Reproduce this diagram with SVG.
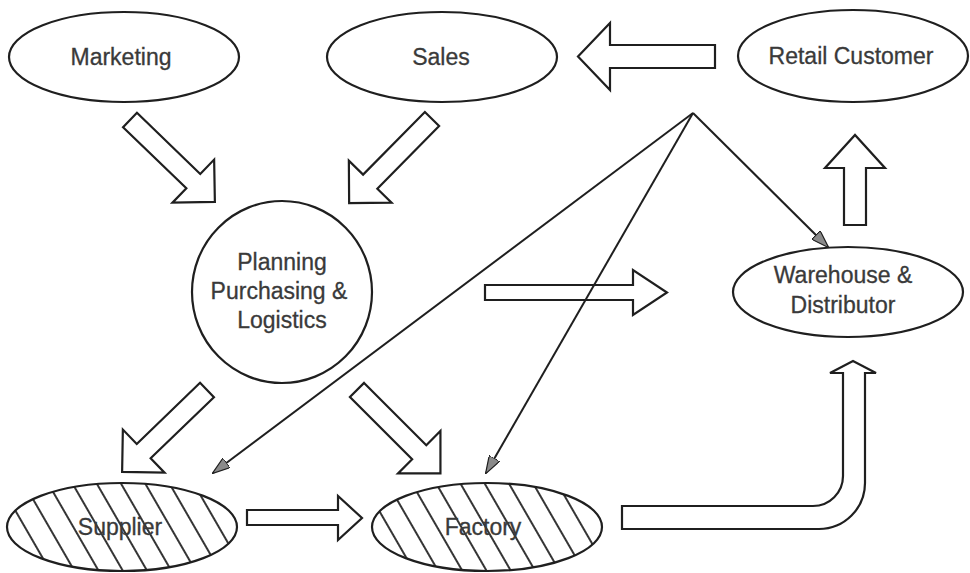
<svg xmlns="http://www.w3.org/2000/svg" width="970" height="573" viewBox="0 0 970 573">
  <style>
    .node { fill: #ffffff; stroke: #1f1f1f; stroke-width: 2.2; }
    .hatched { fill: url(#hatch); stroke: #1f1f1f; stroke-width: 2.2; }
    .label { font-family: "Liberation Sans", Arial, sans-serif; font-size: 23px; fill: #3a3a3a; text-anchor: middle; stroke: #3a3a3a; stroke-width: 0.3; }
    .block { fill: #ffffff; stroke: #1f1f1f; stroke-width: 2.2; stroke-linejoin: miter; }
    .thin { fill: none; stroke: #1f1f1f; stroke-width: 2; }
  </style>
  <defs>
    <!-- diagonal hatching used for Supplier and Factory -->
    <pattern id="hatch" patternUnits="userSpaceOnUse" width="21" height="21" patternTransform="rotate(-30)">
      <rect width="21" height="21" fill="#ffffff"/>
      <line x1="10" y1="0" x2="10" y2="21" stroke="#1f1f1f" stroke-width="1.8"/>
    </pattern>
    <!-- diagonal block arrow, tail at origin, tip at +x -->
    <polygon id="diag" points="0,-10 88,-10 88,-30 118,0 88,30 88,10 0,10"/>
    <marker id="head" viewBox="0 0 18 12" refX="17" refY="6" markerWidth="18" markerHeight="12" markerUnits="userSpaceOnUse" orient="auto">
      <path d="M0,0 L18,6 L0,12 Z" fill="#8a8a8a" stroke="#1f1f1f" stroke-width="1.2"/>
    </marker>
  </defs>

  <rect width="970" height="573" fill="#ffffff"/>

  <g id="connectors">
    <!-- block arrows -->
    <use href="#diag" class="block" transform="translate(130,120) rotate(44)"/>
    <use href="#diag" class="block" transform="translate(432,119) rotate(134.6)"/>
    <use href="#diag" class="block" transform="translate(207,390) rotate(136)"/>
    <use href="#diag" class="block" transform="translate(357,390) rotate(45)"/>
    <!-- Retail Customer to Sales -->
    <polygon class="block" points="715,45 610,45 610,23 578,56.5 610,90 610,68 715,68"/>
    <!-- Planning to Warehouse -->
    <polygon class="block" points="485,285 633,285 633,270 667,292.5 633,315 633,300 485,300"/>
    <!-- Supplier to Factory -->
    <polygon class="block" points="247,510 338,510 338,496 362,518 338,540 338,525 247,525"/>
    <!-- Warehouse to Retail Customer -->
    <polygon class="block" points="844,225 844,168 825,168 855,135 885,168 866,168 866,225"/>
    <!-- Factory to Warehouse, bent -->
    <path class="block" d="M622,506 L813,506 A30,30 0 0 0 843,476 L843,373 L830,373 L853,361 L876,373 L865,373 L865,483 A46,46 0 0 1 819,529 L622,529 Z"/>
    <!-- thin lines from the retail customer -->
    <line class="thin" x1="693" y1="113" x2="213" y2="473" marker-end="url(#head)"/>
    <line class="thin" x1="693" y1="113" x2="486" y2="473" marker-end="url(#head)"/>
    <line class="thin" x1="693" y1="113" x2="828" y2="247" marker-end="url(#head)"/>
  </g>

  <g id="marketing">
    <ellipse class="node" cx="124" cy="57" rx="115" ry="45"/>
    <text class="label" x="121" y="65">Marketing</text>
  </g>

  <g id="sales">
    <ellipse class="node" cx="442" cy="57" rx="115" ry="45"/>
    <text class="label" x="441" y="65">Sales</text>
  </g>

  <g id="retail-customer">
    <ellipse class="node" cx="853" cy="56" rx="115" ry="46"/>
    <text class="label" x="851" y="64">Retail Customer</text>
  </g>

  <g id="planning">
    <ellipse class="node" cx="282" cy="292" rx="90" ry="91"/>
    <text class="label" x="282" y="270">Planning</text>
    <text class="label" x="279" y="299">Purchasing &amp;</text>
    <text class="label" x="282" y="328">Logistics</text>
  </g>

  <g id="warehouse">
    <ellipse class="node" cx="848" cy="292" rx="115" ry="45"/>
    <text class="label" x="843" y="283">Warehouse &amp;</text>
    <text class="label" x="843" y="313">Distributor</text>
  </g>

  <g id="supplier">
    <ellipse class="hatched" cx="122" cy="527" rx="115" ry="44"/>
    <text class="label" x="120" y="535">Supplier</text>
  </g>

  <g id="factory">
    <ellipse class="hatched" cx="487" cy="527" rx="115" ry="44"/>
    <text class="label" x="483" y="535">Factory</text>
  </g>
</svg>
